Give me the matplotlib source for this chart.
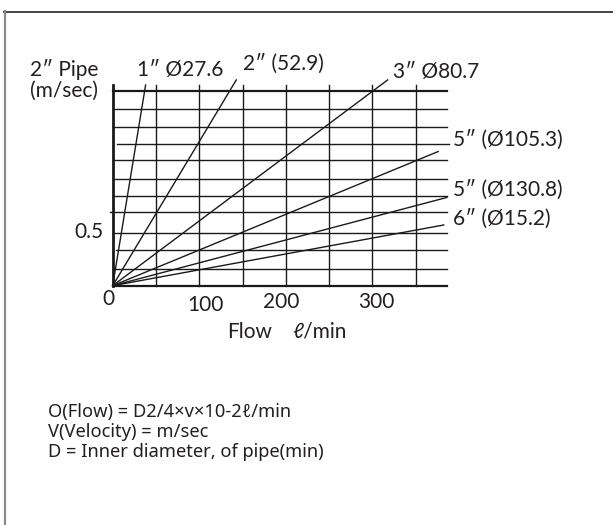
"""
Pipe flow / velocity nomogram (flow l/min vs velocity m/sec).
"""

import matplotlib
matplotlib.use("Agg")
import matplotlib.pyplot as plt
from matplotlib.lines import Line2D

W, H = 613, 525

# grid lines: flow (l/min) verticals, velocity (m/sec) horizontals
flow_grid = [50, 100, 150, 200, 250, 300, 350]
vel_grid  = [1.847, 1.676, 1.503, 1.342, 1.193, 1.012, 0.848, 0.702, 0.503, 0.336, 0.161, 0.0]
vel_start = [0, 0, 0, 4.6, 0, 0, 0, -3.0, 0, 3.8, 0, 0]
vel_end   = [385.7, 385.7, 385.7, 388.3, 385.7, 385.7, 385.7, 385.7, 385.7, 385.7, 385.7, 385.7]
grid_top  = 1.904

# pipe rays from origin, end point (flow, velocity)
pipe_labels = ["1\u2033 Ø27.6", "2\u2033 (52.9)", "3\u2033 Ø80.7",
               "5\u2033 (Ø105.3)", "5\u2033 (Ø130.8)", "6\u2033 (Ø15.2)"]
ray_flow = [38.0, 142.7, 317.5, 375.9, 385.8, 382.3]
ray_vel  = [1.904, 1.952, 1.952, 1.273, 0.837, 0.576]

flow_ticks = [0, 100, 200, 300]
vel_ticks  = [0.5]

formula_lines = [
    "O(Flow) = D2/4×v×10-2\u2113/min",
    "V(Velocity) = m/sec",
    "D = Inner diameter, of pipe(min)",
]

INK = "#1a1a1a"
TXT = "#231f20"
FONT = ["Lato", "DejaVu Sans"]
FS = 15


def px(x, y):
    """pixel position (from top-left) -> figure fraction"""
    return x / W, 1 - y / H


fig = plt.figure(figsize=(W / 100, H / 100), dpi=100)
fig.patch.set_facecolor("white")

# frame (only top and left edges visible)
fig.add_artist(Line2D([4 / W, 1], [1 - 11.5 / H] * 2, color="#444444", lw=1.4))
fig.add_artist(Line2D([4.5 / W] * 2, [0, 1 - 11 / H], color="#8a8a8a", lw=1.6))

l, b = px(112.7, 285.7)
r, t = px(446.7, 91)
ax = fig.add_axes([l, b, r - l, t - b])
ax.set_xlim(0, 385.7)
ax.set_ylim(0, 1.847)
ax.axis("off")

for x in flow_grid:
    ax.plot([x, x], [0, grid_top], color=INK, lw=1.0, clip_on=False)

for v, x0, x1 in zip(vel_grid, vel_start, vel_end):
    lw = 1.6 if v in (vel_grid[0], vel_grid[-1]) else 1.0
    ax.plot([x0, x1], [v, v], color=INK, lw=lw, clip_on=False)

ax.plot([0, 0], [0, grid_top], color=INK, lw=2.0, clip_on=False)

for fx, vy in zip(ray_flow, ray_vel):
    ax.plot([0, fx], [0, vy], color=INK, lw=1.0, clip_on=False)

# tick labels
tick_nudge = [(-4.4, -13), (6, -19), (-4.5, -16.5), (4, -16.5)]
for val, (dx, dy) in zip(flow_ticks, tick_nudge):
    ax.annotate(str(val), xy=(val, 0), xytext=(dx, dy), textcoords="offset pixels",
                ha="center", va="center", fontsize=FS, family=FONT, color=TXT)
for val in vel_ticks:
    ax.annotate(str(val), xy=(0, val), xytext=(-9, 1), textcoords="offset pixels",
                ha="right", va="center", fontsize=FS, family=FONT, color=TXT)

# axis titles
fig.text(*px(30, 70), "2\u2033 Pipe", ha="left", va="center", fontsize=FS, family=FONT, color=TXT)
fig.text(*px(30, 91), "(m/sec)", ha="left", va="center", fontsize=FS, family=FONT, color=TXT)
fig.text(*px(227, 332), "Flow", ha="left", va="center", fontsize=FS, family=FONT, color=TXT)
fig.text(*px(292, 332), "\u2113/min", ha="left", va="center", fontsize=FS, family=FONT, color=TXT)

# pipe labels
label_pos = [(137, 70), (243, 64), (393, 72), (453, 140), (453, 190), (453, 219)]
for txt, (x, y) in zip(pipe_labels, label_pos):
    fig.text(*px(x, y), txt, ha="left", va="center", fontsize=FS, family=FONT, color=TXT)

# formula note
for i, line in enumerate(formula_lines):
    fig.text(*px(48, 412 + 20 * i), line, ha="left", va="center", fontsize=13.2,
             family=["Noto Sans", "DejaVu Sans"], color=TXT)

fig.savefig("out.png", dpi=100)
